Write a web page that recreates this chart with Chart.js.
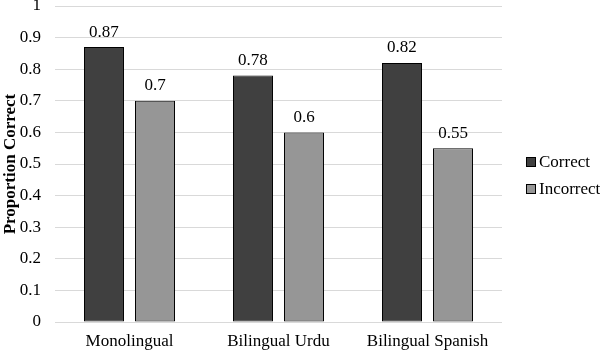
<!DOCTYPE html>
<html>
<head>
<meta charset="utf-8">
<script src="https://cdn.jsdelivr.net/npm/chart.js@4"></script>
<style>
  html, body { margin: 0; padding: 0; background: #fff; }
  #wrap { width: 600px; height: 351px; }
</style>
</head>
<body>
<div id="wrap"><canvas id="barchart-proportion"></canvas></div>
<script>
var categories = ["Monolingual", "Bilingual Urdu", "Bilingual Spanish"];
var seriesNames = ["Correct", "Incorrect"];
var correctValues = [0.87, 0.78, 0.82];
var incorrectValues = [0.7, 0.6, 0.55];
var yTicks = [0, 0.1, 0.2, 0.3, 0.4, 0.5, 0.6, 0.7, 0.8, 0.9, 1];

var serif = "'Liberation Serif', 'Times New Roman', serif";
var darkGray = "#404040";
var lightGray = "#969696";

// value labels over each bar
var barLabels = {
  id: 'barLabels',
  afterDatasetsDraw: function (chart) {
    var ctx = chart.ctx;
    ctx.save();
    ctx.font = "17px " + serif;
    ctx.fillStyle = "#000";
    ctx.textAlign = "center";
    ctx.textBaseline = "middle";
    chart.data.datasets.forEach(function (ds, i) {
      chart.getDatasetMeta(i).data.forEach(function (bar, j) {
        ctx.fillText(String(ds.data[j]), bar.x, bar.y - 15);
      });
    });
    ctx.restore();
  }
};

// legend drawn in the space reserved on the right
var sideLegend = {
  id: 'sideLegend',
  afterDraw: function (chart) {
    var ctx = chart.ctx;
    var x = chart.chartArea.right + 24;
    var midY = chart.height / 2;
    ctx.save();
    ctx.font = "17px " + serif;
    ctx.textBaseline = "middle";
    ctx.textAlign = "left";
    chart.data.datasets.forEach(function (ds, i) {
      var y = midY - 13.5 + i * 27;
      ctx.fillStyle = ds.backgroundColor;
      ctx.fillRect(x, y - 5, 10, 10);
      ctx.strokeStyle = "#000";
      ctx.lineWidth = 1;
      ctx.strokeRect(x + 0.5, y - 4.5, 9, 9);
      ctx.fillStyle = "#000";
      ctx.fillText(ds.label, x + 13, y + 1);
    });
    ctx.restore();
  }
};

var ctx = document.getElementById("barchart-proportion").getContext("2d");

var chart = new Chart(ctx, {
  type: 'bar',
  data: {
    labels: categories,
    datasets: [
      {
        label: seriesNames[0],
        data: correctValues,
        backgroundColor: darkGray,
        borderColor: "#000",
        borderWidth: 1,
        borderSkipped: false
      },
      {
        label: seriesNames[1],
        data: incorrectValues,
        backgroundColor: lightGray,
        borderColor: "#000",
        borderWidth: 1,
        borderSkipped: false
      }
    ]
  },
  options: {
    responsive: true,
    maintainAspectRatio: false,
    animation: false,
    layout: { padding: { top: 6, right: 98, bottom: 0, left: 0 } },
    datasets: {
      bar: { categoryPercentage: 0.685, barPercentage: 0.784 }
    },
    plugins: {
      legend: { display: false },
      tooltip: { enabled: false }
    },
    scales: {
      x: {
        grid: { display: false, drawTicks: false },
        border: { display: false },
        ticks: { color: "#000", font: { family: serif, size: 17 }, padding: 9 },
        afterFit: function (axis) {
          axis.height = 29;
          axis.paddingLeft = 0;
          axis.paddingRight = 0;
        }
      },
      y: {
        min: 0,
        max: 1,
        afterBuildTicks: function (axis) {
          axis.ticks = yTicks.map(function (v) { return { value: v }; });
        },
        afterFit: function (axis) {
          // keep the top tick close to the canvas edge
          axis.width = 55;
          axis.paddingTop = 0;
          axis.paddingBottom = 0;
        },
        grid: { color: "#d9d9d9", drawTicks: false, lineWidth: 1 },
        border: { display: false },
        ticks: {
          color: "#000",
          font: { family: serif, size: 17 },
          padding: 14,
          callback: function (v) { return String(Math.round(v * 10) / 10); }
        },
        title: {
          display: true,
          text: "Proportion Correct",
          color: "#000",
          font: { family: serif, size: 17, weight: 'bold' },
          padding: 0
        }
      }
    }
  },
  plugins: [barLabels, sideLegend]
});
</script>
</body>
</html>
